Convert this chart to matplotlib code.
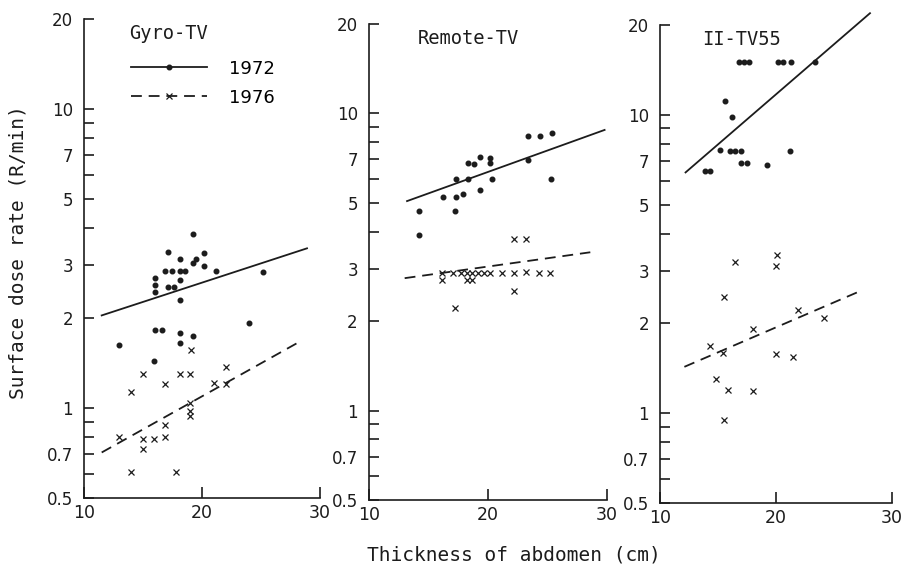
import matplotlib
matplotlib.use("Agg")
import matplotlib.pyplot as plt
from matplotlib.ticker import FixedLocator, FixedFormatter, NullLocator

# Surface dose rate vs. abdomen thickness, three fluoroscopy units, 1972 vs 1976 surveys
gyro_x_1972 = [19.2, 17.1, 20.2, 18.1, 19.5, 19.2, 20.2, 16.9, 17.5, 18.1, 18.6, 21.2, 25.2, 16.0,
               18.1, 16.0, 17.1, 17.6, 16.0, 18.1, 16.0, 16.6, 24.0, 18.1, 19.2, 13.0, 18.1, 15.9]
gyro_y_1972 = [3.82, 3.32, 3.31, 3.15, 3.15, 3.06, 2.98, 2.88, 2.88, 2.87, 2.88, 2.87, 2.84, 2.72,
               2.68, 2.58, 2.54, 2.53, 2.45, 2.29, 1.82, 1.82, 1.93, 1.78, 1.74, 1.62, 1.65, 1.44]
gyro_x_1976 = [19.1, 22.0, 15.0, 18.1, 19.0, 16.9, 21.0, 22.0, 14.0, 19.0, 19.0, 19.0, 16.9, 13.0,
               15.0, 15.9, 16.9, 15.0, 14.0, 17.8]
gyro_y_1976 = [1.56, 1.37, 1.30, 1.30, 1.30, 1.20, 1.21, 1.20, 1.13, 1.04, 0.98, 0.94, 0.88, 0.80,
               0.79, 0.79, 0.80, 0.73, 0.61, 0.61]

remote_x_1972 = [23.4, 24.4, 25.4, 19.3, 18.3, 18.8, 20.2, 20.2, 23.4, 17.3, 18.3, 20.3, 25.3, 19.3,
                 16.2, 17.3, 17.9, 14.2, 17.2, 14.2]
remote_y_1972 = [8.41, 8.42, 8.61, 7.11, 6.82, 6.78, 7.06, 6.80, 6.97, 6.03, 6.01, 6.03, 6.01, 5.52,
                 5.23, 5.23, 5.35, 4.70, 4.70, 3.90]
remote_x_1976 = [22.2, 23.2, 16.1, 16.1, 17.1, 17.7, 18.2, 18.2, 18.7, 18.7, 19.2, 19.7, 20.2, 21.2,
                 22.2, 23.2, 24.3, 25.2, 22.2, 17.2]
remote_y_1976 = [3.79, 3.79, 2.91, 2.75, 2.91, 2.91, 2.91, 2.75, 2.91, 2.75, 2.90, 2.90, 2.91, 2.91,
                 2.91, 2.92, 2.91, 2.91, 2.52, 2.22]

iitv_x_1972 = [16.8, 17.2, 17.7, 20.2, 20.6, 21.3, 23.4, 15.6, 16.2, 15.2, 16.0, 16.5, 17.0, 21.2,
               17.0, 17.5, 19.2, 13.9, 14.3]
iitv_y_1972 = [15.0, 15.0, 15.0, 15.0, 15.0, 15.0, 15.0, 11.1, 9.85, 7.61, 7.55, 7.55, 7.55, 7.55,
               6.87, 6.87, 6.78, 6.47, 6.47]
iitv_x_1976 = [20.1, 20.0, 16.5, 15.5, 21.9, 24.1, 18.0, 14.3, 15.4, 20.0, 21.5, 14.8, 15.9, 18.0, 15.5]
iitv_y_1976 = [3.38, 3.11, 3.20, 2.45, 2.22, 2.08, 1.91, 1.68, 1.59, 1.58, 1.54, 1.30, 1.20, 1.19, 0.95]

# Regression lines (end points)
gyro_fit_x_1972, gyro_fit_y_1972 = [11.5, 28.9], [2.04, 3.42]
gyro_fit_x_1976, gyro_fit_y_1976 = [11.5, 28.2], [0.71, 1.66]
remote_fit_x_1972, remote_fit_y_1972 = [13.2, 29.8], [5.07, 8.80]
remote_fit_x_1976, remote_fit_y_1976 = [13.0, 28.6], [2.79, 3.41]
iitv_fit_x_1972, iitv_fit_y_1972 = [12.2, 28.1], [6.41, 21.9]
iitv_fit_x_1976, iitv_fit_y_1976 = [12.1, 27.5], [1.43, 2.59]

y_ticks = [0.5, 0.6, 0.7, 0.8, 0.9, 1, 2, 3, 4, 5, 6, 7, 8, 9, 10, 20]
y_tick_labels = ["0.5", "", "0.7", "", "", "1", "2", "3", "", "5", "", "7", "", "", "10", "20"]
x_ticks = [10, 20, 30]
x_tick_labels = ["10", "20", "30"]

ink = "#1c1c1c"
mono = "DejaVu Sans Mono"
dash = (6, 3.8)

fig = plt.figure(figsize=(9.07, 5.74), dpi=100)

panels = [
    ("Gyro-TV", [0.0926, 0.1324, 0.2602, 0.8345], 0.19,
     gyro_x_1972, gyro_y_1972, gyro_x_1976, gyro_y_1976,
     gyro_fit_x_1972, gyro_fit_y_1972, gyro_fit_x_1976, gyro_fit_y_1976),
    ("Remote-TV", [0.4068, 0.1289, 0.2624, 0.8293], 0.205,
     remote_x_1972, remote_y_1972, remote_x_1976, remote_y_1976,
     remote_fit_x_1972, remote_fit_y_1972, remote_fit_x_1976, remote_fit_y_1976),
    ("II-TV55", [0.7277, 0.1237, 0.2558, 0.8328], 0.18,
     iitv_x_1972, iitv_y_1972, iitv_x_1976, iitv_y_1976,
     iitv_fit_x_1972, iitv_fit_y_1972, iitv_fit_x_1976, iitv_fit_y_1976),
]

axes = []
for name, rect, title_x, x72, y72, x76, y76, fx72, fy72, fx76, fy76 in panels:
    ax = fig.add_axes(rect)
    ax.set_yscale("log")
    ax.set_xlim(10, 30)
    ax.set_ylim(0.5, 20)

    ax.plot(x72, y72, linestyle="none", marker="o", markersize=3.3, color=ink)
    ax.plot(x76, y76, linestyle="none", marker="x", markersize=4.3, markeredgewidth=0.9, color=ink)
    ax.plot(fx72, fy72, color=ink, linewidth=1.3, clip_on=False)
    ax.plot(fx76, fy76, color=ink, linewidth=1.3, dashes=dash, clip_on=False)

    ax.spines["top"].set_visible(False)
    ax.spines["right"].set_visible(False)
    ax.spines["left"].set_linewidth(1.2)
    ax.spines["bottom"].set_linewidth(1.2)
    ax.spines["left"].set_color(ink)
    ax.spines["bottom"].set_color(ink)

    ax.yaxis.set_major_locator(FixedLocator(y_ticks))
    ax.yaxis.set_major_formatter(FixedFormatter(y_tick_labels))
    ax.yaxis.set_minor_locator(NullLocator())
    ax.set_xticks(x_ticks)
    ax.set_xticklabels(x_tick_labels)
    ax.tick_params(axis="y", direction="in", length=7, width=1.2, pad=8, labelsize=12, colors=ink)
    ax.tick_params(axis="x", direction="in", length=8, width=1.2, pad=4, labelsize=12.5, colors=ink)

    ax.text(title_x, 0.97, name, transform=ax.transAxes, family=mono, fontsize=13.5,
            color=ink, va="center", ha="left")
    axes.append(ax)

# Legend for the first panel
axes[0].plot([], [], color=ink, linewidth=1.3, marker="o", markersize=3.3, label="1972")
axes[0].plot([], [], color=ink, linewidth=1.3, dashes=dash, marker="x", markersize=4.3,
             markeredgewidth=0.9, label="1976")
handles, labels = axes[0].get_legend_handles_labels()
axes[0].legend(handles, labels, loc="upper left", bbox_to_anchor=(0.2, 0.915), frameon=False,
               numpoints=1, handlelength=4.2, handletextpad=1.2, labelspacing=0.6,
               borderpad=0, borderaxespad=0, prop={"size": 13})

fig.text(0.02, 0.56, "Surface dose rate (R/min)", rotation=90, family=mono, fontsize=14,
         color=ink, ha="center", va="center")
fig.text(0.567, 0.033, "Thickness of abdomen (cm)", family=mono, fontsize=14,
         color=ink, ha="center", va="center")

fig.savefig("out.png", dpi=100, facecolor="white")
